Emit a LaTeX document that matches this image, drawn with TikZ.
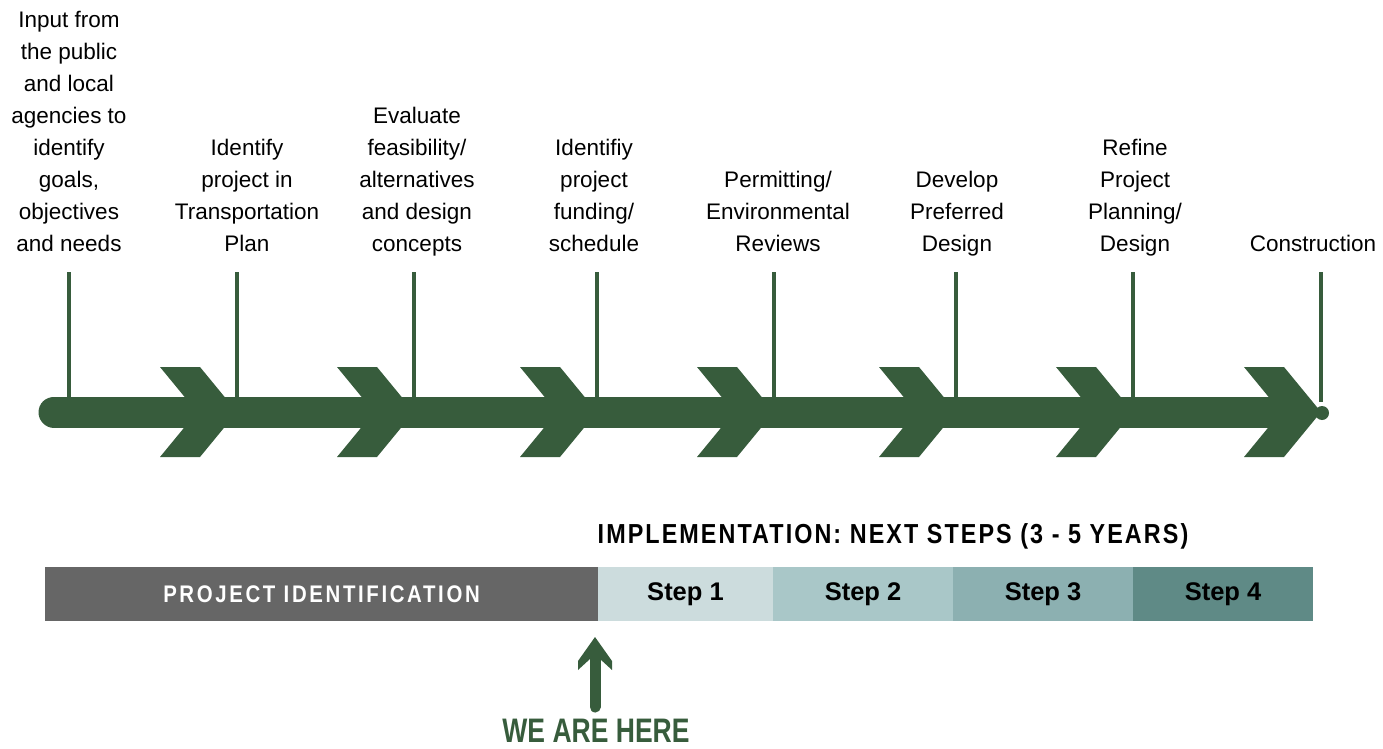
\documentclass[tikz,border=0pt]{standalone}
\usepackage{fontspec}
\setmainfont{Liberation Sans}
\newfontfamily\projfont[FakeStretch=0.85,LetterSpace=11]{Liberation Sans}
\newfontfamily\implfont[FakeStretch=0.85,LetterSpace=7.5]{Liberation Sans}
\newfontfamily\herefont[FakeStretch=0.78]{Liberation Sans}
\definecolor{arrowgreen}{HTML}{375C3C}
\definecolor{pidgrey}{HTML}{666666}
\definecolor{stepa}{HTML}{CCDCDD}
\definecolor{stepb}{HTML}{A9C7C8}
\definecolor{stepc}{HTML}{8CB0B1}
\definecolor{stepd}{HTML}{5F8A86}
\tikzset{
  phase/.style={anchor=south, inner sep=0pt, align=center, font=\fontsize{22.5}{32}\selectfont, text=black},
  tick/.style={draw=arrowgreen, line width=4pt},
  seg/.style={rectangle, inner sep=0pt, minimum height=54pt, draw=none},
  steplabel/.style={font=\fontsize{25.5}{30}\selectfont\bfseries, text=black},
  chev/.style={fill=arrowgreen, draw=none}
}
\begin{document}
\begin{tikzpicture}[x=1pt,y=-1pt]
\useasboundingbox (0,0) rectangle (1383,749);

% main shaft
\coordinate (s0) at (54,412);
\coordinate (s1) at (1300,412);
\draw[arrowgreen, line width=31pt, line cap=round] (s0) -- (s1);
\fill[arrowgreen] (1322,413) circle (7);

% chevrons
\foreach \tx in {237,414,597,774,956,1133,1321} {
  \fill[chev] (\tx-77,367) -- (\tx-37,367) -- (\tx,412) -- (\tx-37,457) -- (\tx-77,457) -- (\tx-40,412) -- cycle;
}

% ticks and labels
\node[phase] (l1) at (69,261.6) {Input from\\the public\\and local\\agencies to\\identify\\goals,\\objectives\\and needs\strut};
\node[phase] (l2) at (247,261.6) {Identify\\project in\\Transportation\\Plan\strut};
\node[phase] (l3) at (417,261.6) {Evaluate\\feasibility/\\alternatives\\and design\\concepts\strut};
\node[phase] (l4) at (594,261.6) {Identifiy\\project\\funding/\\schedule\strut};
\node[phase] (l5) at (778,261.6) {Permitting/\\Environmental\\Reviews\strut};
\node[phase] (l6) at (957,261.6) {Develop\\Preferred\\Design\strut};
\node[phase] (l7) at (1135,261.6) {Refine\\Project\\Planning/\\Design\strut};
\node[phase] (l8) at (1313,261.6) {Construction\strut};

\foreach \i/\x in {1/69,2/237,3/414,4/597,5/774,6/956,7/1133,8/1321} {
  \coordinate (t\i) at (\x,272);
  \coordinate (b\i) at (\x,402);
  \draw[tick] (t\i) -- (b\i);
}

% implementation heading
\node[font=\implfont\fontsize{27.5}{30}\selectfont\bfseries, inner sep=0pt] (impl) at (893,536) {IMPLEMENTATION: NEXT STEPS (3 - 5 YEARS)};

% bar
\node[seg, fill=pidgrey, minimum width=553pt] (pid) at (321.5,594) {};
\node[font=\projfont\fontsize{24}{28}\selectfont\bfseries, text=white, inner sep=0pt] (pidt) at (pid.center) {PROJECT IDENTIFICATION};
\node[seg, fill=stepa, minimum width=175pt] (st1) at (685.5,594) {};
\node[seg, fill=stepb, minimum width=180pt] (st2) at (863,594) {};
\node[seg, fill=stepc, minimum width=180pt] (st3) at (1043,594) {};
\node[seg, fill=stepd, minimum width=180pt] (st4) at (1223,594) {};
\node[steplabel] at (st1.center) {Step 1};
\node[steplabel] at (st2.center) {Step 2};
\node[steplabel] at (st3.center) {Step 3};
\node[steplabel] at (st4.center) {Step 4};

% we are here
\node[font=\herefont\fontsize{34}{38}\selectfont\bfseries, text=arrowgreen, inner sep=0pt] (here) at (596,731) {WE ARE HERE};
\coordinate (ha) at (595,707);
\coordinate (hb) at (595,658);
\draw[arrowgreen, line width=11pt, line cap=round] (ha) -- (hb);
\fill[arrowgreen] (595,637) -- (612,661) -- (612,670) -- (600,659) -- (590,659) -- (578,670) -- (578,661) -- cycle;
\end{tikzpicture}
\end{document}
